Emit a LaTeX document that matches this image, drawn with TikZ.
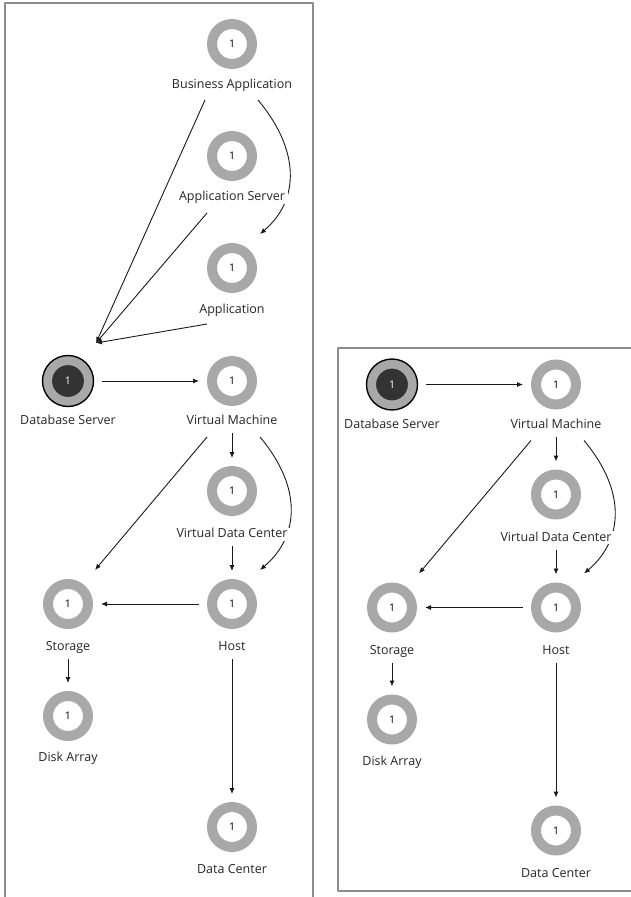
\documentclass[tikz,border=0pt]{standalone}
\usepackage{fontspec}
\setmainfont{Open Sans}
\usetikzlibrary{arrows.meta,backgrounds}
\definecolor{ringgray}{HTML}{A8A8A8}
\definecolor{coredark}{HTML}{333333}
\definecolor{framegray}{HTML}{8C8C8C}

\begin{document}
\begin{tikzpicture}[x=1pt, y=-1pt, line cap=round, line join=round, >={Latex[length=6pt,width=5pt]}]
  \tikzset{ring/.style={circle, draw=ringgray, line width=10pt, minimum size=40pt, inner sep=0pt, outer sep=13pt, font=\fontsize{10.5}{10.5}\selectfont},
    dbring/.style={ring, fill=coredark, line width=9pt, minimum size=41pt, text=white},
    tag/.style={fill=white, inner xsep=3pt, inner ysep=0pt, outer sep=5.5pt, text height=10pt, text depth=3pt, font=\fontsize{12.5}{14}\selectfont, text=black!85},
    link/.style={draw=black!90, line width=.9pt, ->},
    panel/.style={draw=framegray, line width=1.2pt}}
  \useasboundingbox (0,0) rectangle (631,897);

  % panel frames: the left one runs off the bottom, the right one off the right
  \draw[panel] (5,897)--(5,3)--(313,3)--(313,897);
  \draw[panel] (631,348)--(338,348)--(338,891)--(631,891);

  % upper chain, left panel only
  \node[ring] (ba) at (232,44) {1};
  \node[tag] (ba-l) at (232,85) {Business Application};
  \node[ring] (as) at (232,156) {1};
  \node[tag] (as-l) at (232,197) {Application Server};
  \node[ring] (app) at (232,268) {1};
  \node[tag] (app-l) at (232,310) {Application};

  % lower graph, drawn once per panel
  \foreach \dx/\dy/\p in {0/0/l, 324/3.5/r} {
    \begin{scope}[shift={(\dx,\dy)}, name prefix=\p-]
      \node[dbring] (dbs) at (68,381) {1};
      \draw[line width=1.4pt] (dbs.center) circle (25.5pt);
      \node[tag] (dbs-l) at (68,421) {Database Server};
      \node[ring] (vm) at (232,381) {1};
      \node[tag] (vm-l) at (232,421) {Virtual Machine};
      \node[ring] (vdc) at (232,491) {1};
      \node[tag] (vdc-l) at (232,534) {Virtual Data Center};
      \node[ring] (st) at (68,604) {1};
      \node[tag] (st-l) at (68,647) {Storage};
      \node[ring] (host) at (232,604) {1};
      \node[tag] (host-l) at (232,647) {Host};
      \node[ring] (da) at (68,716) {1};
      \node[tag] (da-l) at (68,758) {Disk Array};
      \node[ring] (dc) at (232,827) {1};
      \node[tag] (dc-l) at (232,870) {Data Center};

      % links go under the labels, so the curve breaks behind them
      \begin{scope}[on background layer]
        \draw[link] (dbs) -- (vm);
        \draw[link] ([shift={(-25,4)}]vm-l.south) -- ([shift={(27,-34)}]st.center);
        \draw[link] (vm-l) -- (vdc);
        \draw[link] ([shift={(28,4)}]vm-l.south) .. controls +(42,50) and +(40,-34) .. ([shift={(28,-34)}]host.center);
        \draw[link] (vdc-l) -- (host);
        \draw[link] (host) -- (st);
        \draw[link] (st-l) -- (da);
        \draw[link] (host-l) -- (dc);
      \end{scope}
    \end{scope}
  }

  % upper links all meet just above the left Database Server
  \coordinate (dbin) at (96,343);
  \begin{scope}[on background layer]
    \draw[link] ([shift={(-27,3)}]ba-l.south) -- (dbin);
    \draw[link] ([shift={(-25,4)}]as-l.south) -- (dbin);
    \draw[link] ([shift={(-25,2)}]app-l.south) -- (dbin);
    \draw[link] ([shift={(26,3)}]ba-l.south) .. controls +(42,50) and +(40,-34) .. ([shift={(28,-34)}]app.center);
  \end{scope}
\end{tikzpicture}
\end{document}
